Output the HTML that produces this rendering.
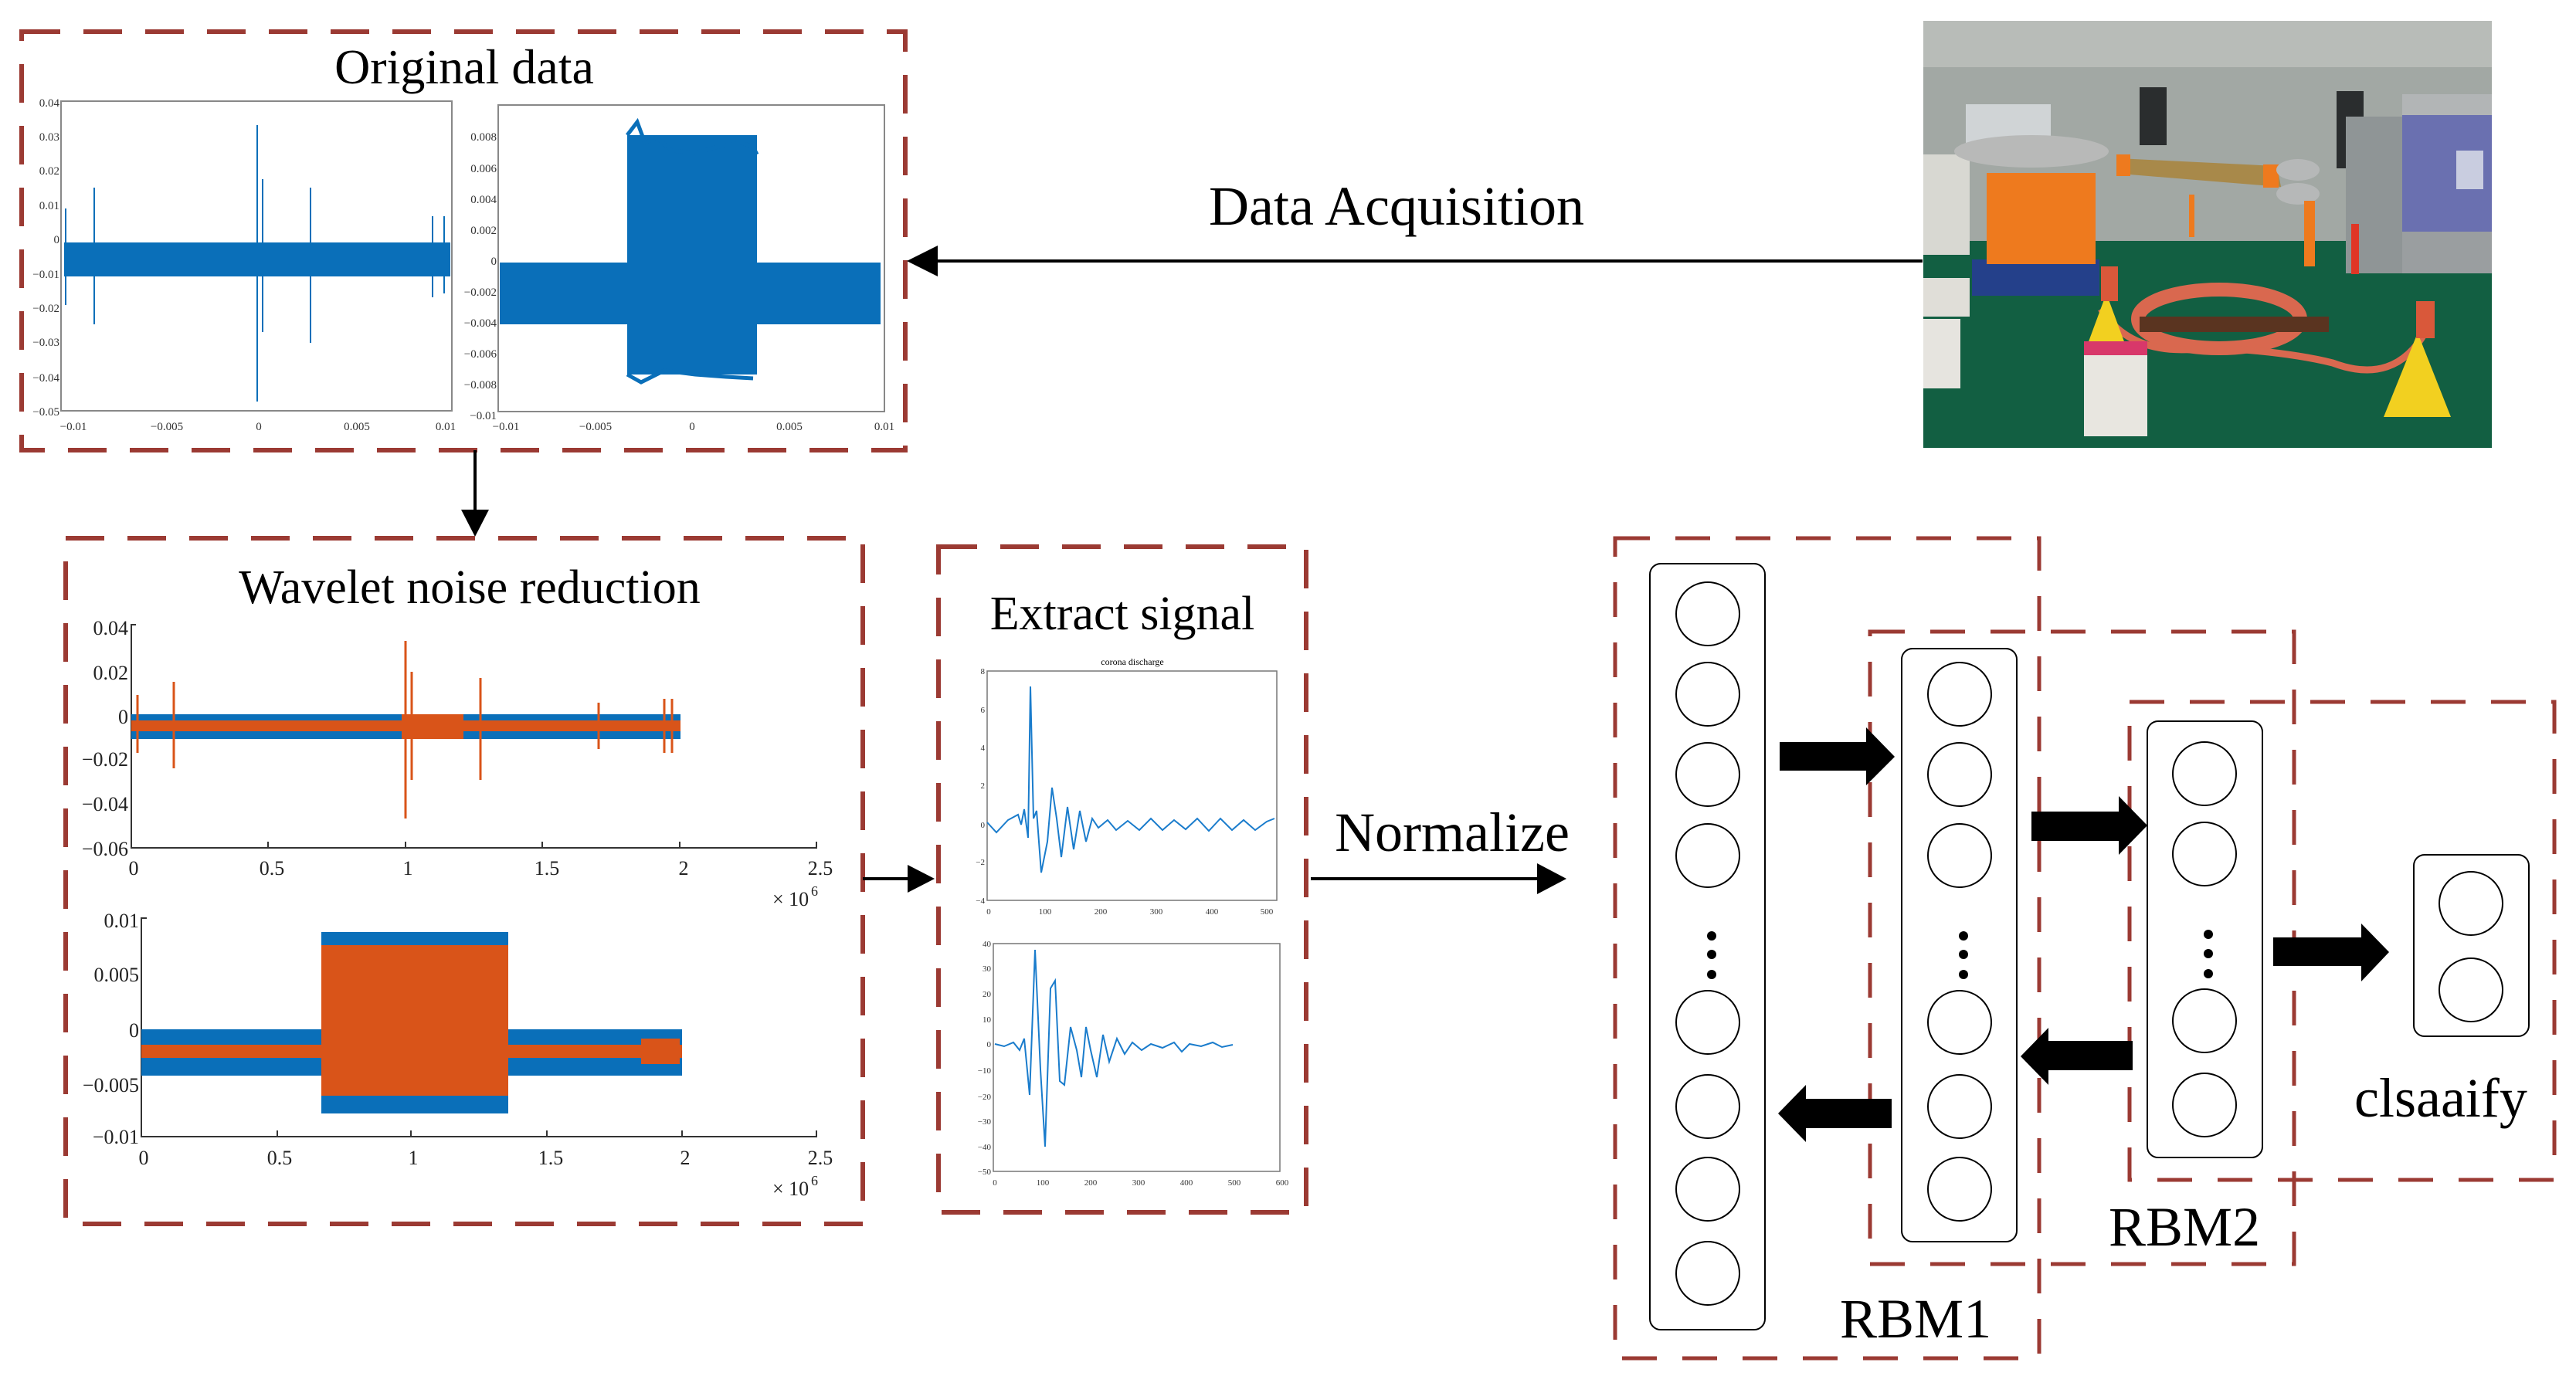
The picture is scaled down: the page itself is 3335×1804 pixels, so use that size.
<!DOCTYPE html>
<html><head><meta charset="utf-8"><style>
html,body{margin:0;padding:0;background:#fff;}
svg{display:block;}
text{font-family:"Liberation Serif",serif;}
</style></head><body>
<svg width="3335" height="1804" viewBox="0 0 3335 1804" xmlns="http://www.w3.org/2000/svg">
<defs>
<marker id="ah" markerWidth="10" markerHeight="10" refX="9" refY="5" orient="auto" markerUnits="userSpaceOnUse"></marker>
</defs>
<rect width="3335" height="1804" fill="#fff"/>

<!-- ===== Original data box ===== -->
<rect x="28" y="41" width="1144" height="542" fill="none" stroke="#9b3a33" stroke-width="6" stroke-dasharray="50,30"/>
<text x="601" y="108" font-size="64" text-anchor="middle">Original data</text>
<!-- plot 1 -->
<rect x="79" y="131" width="506" height="401" fill="none" stroke="#888" stroke-width="2"/>
<g font-size="15" fill="#333" text-anchor="end">
<text x="77" y="138">0.04</text><text x="77" y="182">0.03</text><text x="77" y="226">0.02</text><text x="77" y="271">0.01</text><text x="77" y="315">0</text><text x="77" y="360">−0.01</text><text x="77" y="404">−0.02</text><text x="77" y="448">−0.03</text><text x="77" y="494">−0.04</text><text x="77" y="538">−0.05</text>
</g>
<g font-size="15" fill="#333" text-anchor="middle">
<text x="95" y="557">−0.01</text><text x="216" y="557">−0.005</text><text x="335" y="557">0</text><text x="462" y="557">0.005</text><text x="577" y="557">0.01</text>
</g>
<rect x="83" y="314" width="500" height="44" fill="#0a6fb9"/>
<g stroke="#0a6fb9" stroke-width="2">
<line x1="122" y1="243" x2="122" y2="420"/><line x1="333" y1="162" x2="333" y2="520"/><line x1="340" y1="232" x2="340" y2="430"/><line x1="402" y1="243" x2="402" y2="444"/><line x1="85" y1="270" x2="85" y2="395"/><line x1="560" y1="280" x2="560" y2="385"/><line x1="575" y1="280" x2="575" y2="380"/>
</g>
<!-- plot 2 -->
<rect x="645" y="136" width="500" height="397" fill="none" stroke="#888" stroke-width="2"/>
<g font-size="15" fill="#333" text-anchor="end">
<text x="643" y="182">0.008</text><text x="643" y="223">0.006</text><text x="643" y="263">0.004</text><text x="643" y="303">0.002</text><text x="643" y="343">0</text><text x="643" y="383">−0.002</text><text x="643" y="423">−0.004</text><text x="643" y="463">−0.006</text><text x="643" y="503">−0.008</text><text x="643" y="543">−0.01</text>
</g>
<g font-size="15" fill="#333" text-anchor="middle">
<text x="655" y="557">−0.01</text><text x="771" y="557">−0.005</text><text x="896" y="557">0</text><text x="1022" y="557">0.005</text><text x="1145" y="557">0.01</text>
</g>
<rect x="647" y="340" width="493" height="80" fill="#0a6fb9"/>
<rect x="812" y="175" width="168" height="310" fill="#0a6fb9"/>
<polyline points="812,175 825,158 835,185 850,178 870,195 900,198 930,190 960,185 975,190 980,200" fill="none" stroke="#0a6fb9" stroke-width="5"/>
<polyline points="812,485 830,495 860,480 900,485 940,488 975,490" fill="none" stroke="#0a6fb9" stroke-width="5"/>

<!-- Data acquisition arrow -->
<line x1="2489" y1="338" x2="1200" y2="338" stroke="#000" stroke-width="4"/>
<polygon points="1174,338 1214,318 1214,358" fill="#000"/>
<text x="1808" y="291" font-size="72" text-anchor="middle">Data Acquisition</text>

<!-- Photo -->
<g>
<rect x="2490" y="27" width="736" height="553" fill="#125f42"/>
<rect x="2490" y="27" width="736" height="285" fill="#a2a8a4"/>
<rect x="2490" y="27" width="736" height="60" fill="#b8bcb8"/>
<rect x="2770" y="113" width="35" height="75" fill="#2a2d2e"/>
<rect x="3025" y="118" width="35" height="100" fill="#2a2d2e"/>
<rect x="2545" y="135" width="110" height="70" fill="#d0d4d6"/>
<rect x="2490" y="200" width="60" height="130" fill="#d8d8d2"/>
<rect x="3037" y="151" width="73" height="203" fill="#8f9596"/>
<rect x="3110" y="122" width="116" height="27" fill="#b2b5b6"/>
<rect x="3110" y="149" width="116" height="151" fill="#6a70b0"/>
<rect x="3110" y="300" width="116" height="54" fill="#9a9ea0"/>
<rect x="3180" y="195" width="35" height="50" fill="#c9cde0"/>
<rect x="2553" y="336" width="165" height="47" fill="#24408a"/>
<rect x="2572" y="224" width="141" height="118" fill="#ee7a1e"/>
<ellipse cx="2630" cy="196" rx="100" ry="21" fill="#b8b9b8"/>
<polygon points="2742,205 2948,215 2953,242 2745,225" fill="#a8894a"/>
<rect x="2740" y="200" width="18" height="28" fill="#ee7a1e"/>
<rect x="2930" y="213" width="20" height="30" fill="#ee7a1e"/>
<ellipse cx="2975" cy="220" rx="28" ry="14" fill="#b6b8b8"/>
<ellipse cx="2975" cy="251" rx="28" ry="14" fill="#b6b8b8"/>
<rect x="2983" y="260" width="14" height="85" fill="#ee7a1e"/>
<rect x="3044" y="290" width="10" height="65" fill="#e03626"/>
<rect x="2834" y="252" width="7" height="55" fill="#ee7a1e"/>
<ellipse cx="2873" cy="413" rx="105" ry="38" fill="none" stroke="#d9684f" stroke-width="18"/>
<path d="M2720,400 Q2760,465 2860,450 Q2960,455 3020,470 Q3100,500 3140,430" fill="none" stroke="#d9684f" stroke-width="9"/>
<rect x="2770" y="410" width="245" height="20" fill="#5a3420"/>
<polygon points="2703,445 2727,380 2751,445" fill="#f2d020"/>
<polygon points="3086,540 3130,431 3173,540" fill="#f2d020"/>
<rect x="2720" y="345" width="22" height="45" fill="#d9583a"/>
<rect x="3128" y="390" width="24" height="48" fill="#d9583a"/>
<rect x="2698" y="442" width="82" height="123" fill="#e8e6e0"/>
<rect x="2698" y="442" width="82" height="18" fill="#d8386a"/>
<rect x="2490" y="413" width="48" height="90" fill="#e6e4df"/>
<rect x="2490" y="360" width="60" height="50" fill="#e0ded8"/>
</g>

<!-- Down arrow -->
<line x1="615" y1="583" x2="615" y2="665" stroke="#000" stroke-width="4"/>
<polygon points="615,695 597,660 633,660" fill="#000"/>

<!-- ===== Wavelet box ===== -->
<rect x="85" y="697" width="1032" height="888" fill="none" stroke="#9b3a33" stroke-width="6" stroke-dasharray="50,30"/>
<text x="608" y="781" font-size="62" text-anchor="middle">Wavelet noise reduction</text>
<!-- top plot -->
<polyline points="176,809 170,809 170,1098 1057,1098 1057,1090" fill="none" stroke="#333" stroke-width="2"/>
<g stroke="#333" stroke-width="2"><line x1="347" y1="1098" x2="347" y2="1090"/><line x1="525" y1="1098" x2="525" y2="1090"/><line x1="702" y1="1098" x2="702" y2="1090"/><line x1="880" y1="1098" x2="880" y2="1090"/></g>
<g font-size="26" fill="#222" text-anchor="end">
<text x="166" y="822">0.04</text><text x="166" y="880">0.02</text><text x="166" y="937">0</text><text x="166" y="992">−0.02</text><text x="166" y="1050">−0.04</text><text x="166" y="1108">−0.06</text>
</g>
<g font-size="26" fill="#222" text-anchor="middle">
<text x="173" y="1133">0</text><text x="352" y="1133">0.5</text><text x="528" y="1133">1</text><text x="708" y="1133">1.5</text><text x="885" y="1133">2</text><text x="1062" y="1133">2.5</text>
</g>
<text x="1000" y="1173" font-size="26" fill="#222">× 10</text><text x="1050" y="1160" font-size="18" fill="#222">6</text>
<rect x="170" y="925" width="711" height="32" fill="#0a6fb9"/>
<rect x="170" y="933" width="711" height="14" fill="#d95419"/>
<rect x="520" y="925" width="80" height="32" fill="#d95419"/>
<g stroke="#d95419" stroke-width="3">
<line x1="225" y1="883" x2="225" y2="995"/><line x1="525" y1="830" x2="525" y2="1060"/><line x1="533" y1="870" x2="533" y2="1010"/><line x1="622" y1="878" x2="622" y2="1010"/><line x1="178" y1="900" x2="178" y2="975"/><line x1="860" y1="905" x2="860" y2="975"/><line x1="870" y1="905" x2="870" y2="975"/><line x1="775" y1="910" x2="775" y2="970"/>
</g>
<!-- bottom plot -->
<polyline points="190,1189 183,1189 183,1472 1057,1472 1057,1464" fill="none" stroke="#333" stroke-width="2"/>
<g stroke="#333" stroke-width="2"><line x1="359" y1="1472" x2="359" y2="1464"/><line x1="532" y1="1472" x2="532" y2="1464"/><line x1="708" y1="1472" x2="708" y2="1464"/><line x1="883" y1="1472" x2="883" y2="1464"/></g>
<g font-size="26" fill="#222" text-anchor="end">
<text x="180" y="1201">0.01</text><text x="180" y="1271">0.005</text><text x="180" y="1343">0</text><text x="180" y="1414">−0.005</text><text x="180" y="1481">−0.01</text>
</g>
<g font-size="26" fill="#222" text-anchor="middle">
<text x="186" y="1508">0</text><text x="362" y="1508">0.5</text><text x="535" y="1508">1</text><text x="713" y="1508">1.5</text><text x="887" y="1508">2</text><text x="1062" y="1508">2.5</text>
</g>
<text x="1000" y="1548" font-size="26" fill="#222">× 10</text><text x="1050" y="1535" font-size="18" fill="#222">6</text>
<rect x="183" y="1333" width="700" height="60" fill="#0a6fb9"/>
<rect x="416" y="1207" width="242" height="235" fill="#0a6fb9"/>
<rect x="183" y="1353" width="700" height="17" fill="#d95419"/>
<rect x="416" y="1224" width="242" height="195" fill="#d95419"/>
<rect x="830" y="1345" width="50" height="33" fill="#d95419"/>

<!-- arrow to extract -->
<line x1="1117" y1="1138" x2="1180" y2="1138" stroke="#000" stroke-width="4"/>
<polygon points="1210,1138 1175,1120 1175,1156" fill="#000"/>

<!-- ===== Extract box ===== -->
<rect x="1215" y="708" width="476" height="862" fill="none" stroke="#9b3a33" stroke-width="6" stroke-dasharray="50,30"/>
<text x="1453" y="815" font-size="62" text-anchor="middle">Extract signal</text>
<text x="1466" y="861" font-size="12" text-anchor="middle">corona discharge</text>
<rect x="1278" y="869" width="375" height="297" fill="none" stroke="#777" stroke-width="1.5"/>
<g font-size="11" fill="#333" text-anchor="end"><text x="1275" y="873">8</text><text x="1275" y="923">6</text><text x="1275" y="972">4</text><text x="1275" y="1021">2</text><text x="1275" y="1072">0</text><text x="1275" y="1120">−2</text><text x="1275" y="1170">−4</text></g>
<g font-size="11" fill="#333" text-anchor="middle"><text x="1280" y="1184">0</text><text x="1353" y="1184">100</text><text x="1425" y="1184">200</text><text x="1497" y="1184">300</text><text x="1569" y="1184">400</text><text x="1640" y="1184">500</text></g>
<polyline points="1278,1065 1290,1078 1305,1062 1318,1055 1322,1068 1326,1048 1331,1085 1334,889 1338,1060 1342,1050 1348,1130 1356,1090 1362,1020 1368,1060 1374,1110 1382,1045 1390,1100 1398,1050 1406,1090 1414,1060 1422,1072 1434,1062 1445,1075 1460,1063 1475,1075 1490,1060 1505,1075 1520,1062 1535,1074 1550,1060 1565,1076 1580,1060 1595,1075 1610,1062 1625,1075 1640,1064 1650,1060" fill="none" stroke="#1a7ccc" stroke-width="2"/>
<rect x="1286" y="1222" width="371" height="295" fill="none" stroke="#777" stroke-width="1.5"/>
<g font-size="11" fill="#333" text-anchor="end"><text x="1283" y="1226">40</text><text x="1283" y="1258">30</text><text x="1283" y="1291">20</text><text x="1283" y="1324">10</text><text x="1283" y="1356">0</text><text x="1283" y="1390">−10</text><text x="1283" y="1424">−20</text><text x="1283" y="1456">−30</text><text x="1283" y="1489">−40</text><text x="1283" y="1521">−50</text></g>
<g font-size="11" fill="#333" text-anchor="middle"><text x="1288" y="1535">0</text><text x="1350" y="1535">100</text><text x="1412" y="1535">200</text><text x="1474" y="1535">300</text><text x="1536" y="1535">400</text><text x="1598" y="1535">500</text><text x="1660" y="1535">600</text></g>
<polyline points="1288,1352 1300,1355 1312,1350 1320,1360 1326,1345 1333,1418 1340,1230 1347,1385 1353,1485 1360,1280 1366,1270 1372,1400 1378,1405 1386,1330 1394,1360 1400,1395 1406,1330 1412,1360 1420,1395 1428,1340 1436,1375 1446,1345 1456,1365 1466,1350 1478,1360 1490,1352 1505,1357 1520,1350 1530,1362 1540,1352 1555,1355 1570,1350 1582,1356 1596,1353" fill="none" stroke="#1a7ccc" stroke-width="2"/>

<!-- Normalize arrow -->
<line x1="1697" y1="1138" x2="1995" y2="1138" stroke="#000" stroke-width="4"/>
<polygon points="2028,1138 1990,1118 1990,1158" fill="#000"/>
<text x="1880" y="1102" font-size="72" text-anchor="middle">Normalize</text>

<!-- ===== RBM boxes ===== -->
<g fill="none" stroke="#9b3a33" stroke-width="5" stroke-dasharray="45,33">
<rect x="2091" y="697" width="549" height="1062"/>
<rect x="2421" y="818" width="549" height="819"/>
<rect x="2757" y="909" width="550" height="619"/>
</g>
<g fill="none" stroke="#000" stroke-width="2">
<rect x="2136" y="730" width="149" height="992" rx="14"/>
<rect x="2462" y="840" width="149" height="768" rx="14"/>
<rect x="2780" y="934" width="149" height="565" rx="14"/>
<rect x="3125" y="1107" width="149" height="235" rx="14"/>
<ellipse cx="2211" cy="795" rx="41" ry="41"/><ellipse cx="2211" cy="899" rx="41" ry="41"/><ellipse cx="2211" cy="1003" rx="41" ry="41"/><ellipse cx="2211" cy="1108" rx="41" ry="41"/>
<ellipse cx="2211" cy="1324" rx="41" ry="41"/><ellipse cx="2211" cy="1433" rx="41" ry="41"/><ellipse cx="2211" cy="1540" rx="41" ry="41"/><ellipse cx="2211" cy="1649" rx="41" ry="41"/>
<ellipse cx="2537" cy="899" rx="41" ry="41"/><ellipse cx="2537" cy="1003" rx="41" ry="41"/><ellipse cx="2537" cy="1108" rx="41" ry="41"/>
<ellipse cx="2537" cy="1324" rx="41" ry="41"/><ellipse cx="2537" cy="1433" rx="41" ry="41"/><ellipse cx="2537" cy="1540" rx="41" ry="41"/>
<ellipse cx="2854" cy="1002" rx="41" ry="41"/><ellipse cx="2854" cy="1106" rx="41" ry="41"/>
<ellipse cx="2854" cy="1322" rx="41" ry="41"/><ellipse cx="2854" cy="1431" rx="41" ry="41"/>
<ellipse cx="3199" cy="1170" rx="41" ry="41"/><ellipse cx="3199" cy="1282" rx="41" ry="41"/>
</g>
<g fill="#000">
<circle cx="2216" cy="1212" r="6"/><circle cx="2216" cy="1236" r="6"/><circle cx="2216" cy="1262" r="6"/>
<circle cx="2542" cy="1212" r="6"/><circle cx="2542" cy="1236" r="6"/><circle cx="2542" cy="1262" r="6"/>
<circle cx="2859" cy="1210" r="6"/><circle cx="2859" cy="1235" r="6"/><circle cx="2859" cy="1261" r="6"/>
<!-- block arrows -->
<polygon points="2304,961 2416,961 2416,942 2453,980 2416,1017 2416,998 2304,998"/>
<polygon points="2630,1051 2743,1051 2743,1031 2780,1069 2743,1107 2743,1089 2630,1089"/>
<polygon points="2943,1214 3057,1214 3057,1196 3093,1233 3057,1271 3057,1251 2943,1251"/>
<polygon points="2761,1348 2652,1348 2652,1331 2616,1368 2652,1405 2652,1386 2761,1386"/>
<polygon points="2449,1423 2338,1423 2338,1405 2302,1442 2338,1479 2338,1461 2449,1461"/>
</g>
<text x="2382" y="1732" font-size="72">RBM1</text>
<text x="2730" y="1613" font-size="72">RBM2</text>
<text x="3048" y="1446" font-size="72">clsaaify</text>
</svg>
</body></html>
